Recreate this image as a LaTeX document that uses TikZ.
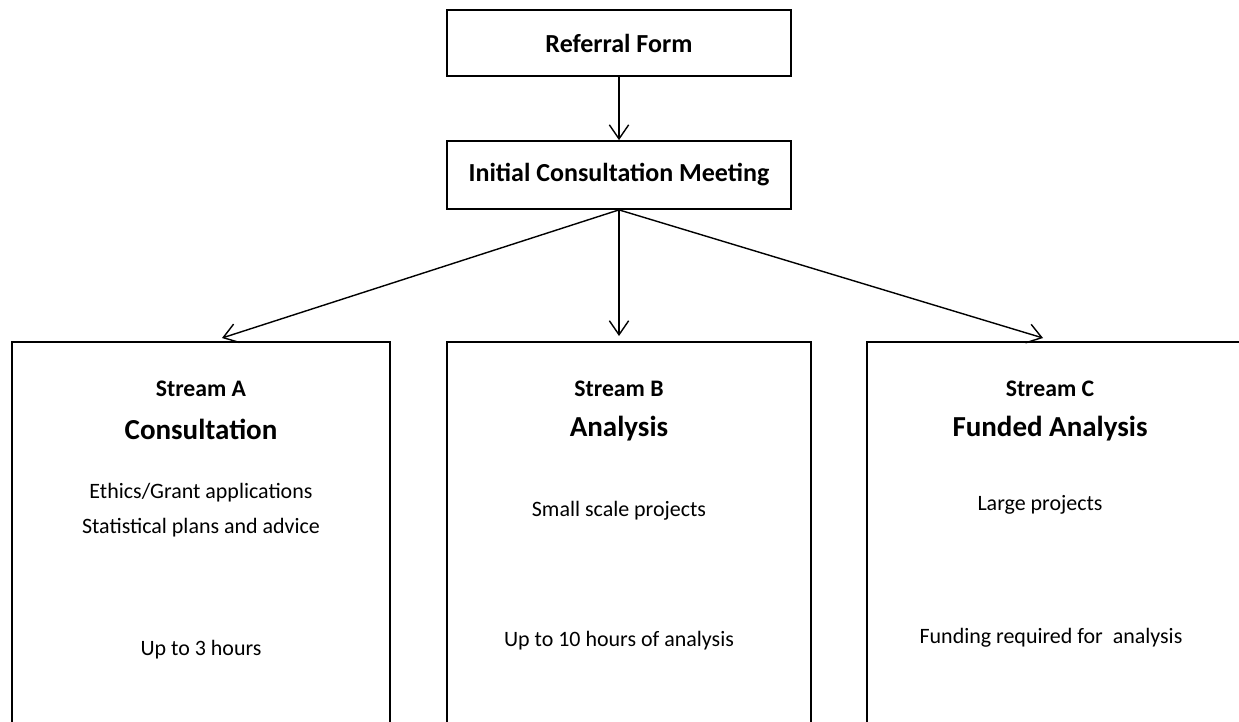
\documentclass[tikz,border=0pt]{standalone}
\usepackage{fontspec}
\setmainfont{Carlito}
\usetikzlibrary{arrows}
\usetikzlibrary{arrows.meta}
\usetikzlibrary{positioning}

\tikzset{
  box/.style={draw, line width=1pt, minimum height=0pt, inner sep=0pt},
  smalltxt/.style={font=\fontsize{12.5}{15}\selectfont},
  headtxt/.style={font=\fontsize{13.5}{16}\selectfont\bfseries},
  toptxt/.style={font=\fontsize{14.8}{18}\selectfont\bfseries},
  bigtxt/.style={font=\fontsize{16.5}{20}\selectfont\bfseries},
  flow/.style={line width=0.8pt, -{Straight Barb[length=8pt,width=11pt,line width=0.8pt]}}
}

\begin{document}
\begin{tikzpicture}[x=0.02cm, y=-0.02cm]
    \useasboundingbox (0,0) rectangle (1239,721);
    \clip (0,0) rectangle (1239,721);
    % top of the chart
    \node[box, minimum width=344*0.02cm, minimum height=66*0.02cm, toptxt] at (619, 43) (RF) {Referral Form};
    \node[box, minimum width=344*0.02cm, minimum height=68*0.02cm, toptxt] at (619, 175) (ICM) {Initial Consultation Meeting};
    % the three streams, open at the bottom
    \node[box, minimum width=378*0.02cm, minimum height=440*0.02cm] at (201, 562) (SA) {};
    \node[box, minimum width=364*0.02cm, minimum height=440*0.02cm] at (629, 562) (SB) {};
    \node[box, minimum width=400*0.02cm, minimum height=440*0.02cm] at (1067, 562) (SC) {};
    \coordinate (tA) at (222, 338);
    \coordinate (tB) at (619, 336);
    \coordinate (tC) at (1043, 338);
    \draw (RF) edge[flow] (ICM);
    \draw (ICM.south) edge[flow] (tA);
    \draw (ICM.south) edge[flow] (tB);
    \draw (ICM.south) edge[flow] (tC);
    % stream A
    \node[headtxt] at (201, 389) (A1) {Stream A};
    \node[bigtxt] at (201, 429) (A2) {Consultation};
    \node[smalltxt] at (201, 493) (A3) {Ethics/Grant applications};
    \node[smalltxt] at (201, 528) (A4) {Statistical plans and advice};
    \node[smalltxt] at (201, 650) (A5) {Up to 3 hours};
    % stream B
    \node[headtxt] at (619, 389) (B1) {Stream B};
    \node[bigtxt] at (619, 429) (B2) {Analysis};
    \node[smalltxt] at (619, 511) (B3) {Small scale projects};
    \node[smalltxt] at (619, 641) (B4) {Up to 10 hours of analysis};
    % stream C
    \node[headtxt] at (1050, 389) (C1) {Stream C};
    \node[bigtxt] at (1050, 429) (C2) {Funded Analysis};
    \node[smalltxt] at (1040, 505) (C3) {Large projects};
    \node[smalltxt] at (1051, 638) (C4) {Funding required for~ analysis};
\end{tikzpicture}
\end{document}
